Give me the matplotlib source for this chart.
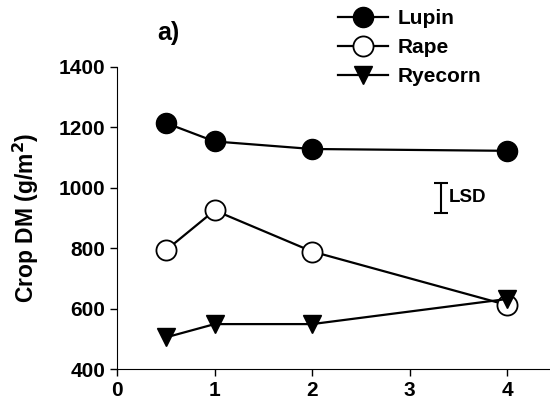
import numpy as np
import matplotlib
matplotlib.use('Agg')
import matplotlib.pyplot as plt

plt.rcParams['font.family'] = ['Liberation Sans', 'DejaVu Sans']

# sowing / time values (x) and crop dry matter for each crop
x_vals = [0.5, 1, 2, 4]
lupin = [1214, 1153, 1128, 1122]
rape = [793, 925, 789, 612]
ryecorn = [505, 549, 549, 632]

lsd_x = 3.32
lsd_center = 967
lsd_value = 98

x_ticks = [0, 1, 2, 3, 4]
y_ticks = [400, 600, 800, 1000, 1200, 1400]


def plotar():
    fig = plt.figure(figsize=(5.5, 4.07), dpi=100)
    ax = fig.add_axes([0.213, 0.093, 0.787, 0.743])

    ax.plot(x_vals, lupin, '-o', color='black', lw=1.6, ms=14.5,
            mfc='black', mec='black', label='Lupin', zorder=3)
    ax.plot(x_vals, rape, '-o', color='black', lw=1.6, ms=14.5,
            mfc='white', mec='black', mew=1.3, label='Rape', zorder=3)
    ax.plot(x_vals, ryecorn, '-v', color='black', lw=1.6, ms=13,
            mfc='black', mec='black', label='Ryecorn', zorder=4)

    # LSD bar
    ax.errorbar([lsd_x], [lsd_center], yerr=lsd_value / 2, fmt='none',
                ecolor='black', elinewidth=1.5, capsize=5, capthick=1.5)
    ax.text(lsd_x + 0.08, lsd_center, 'LSD', fontsize=13.5, fontweight='bold',
            va='center', ha='left')

    ax.set_xlim(0, 4.44)
    ax.set_ylim(400, 1400)
    ax.set_xticks(x_ticks)
    ax.set_yticks(y_ticks)
    ax.tick_params(direction='out', length=5, width=1, labelsize=15)
    for lab in ax.get_xticklabels() + ax.get_yticklabels():
        lab.set_fontweight('bold')

    ax.spines['top'].set_visible(False)
    ax.spines['right'].set_visible(False)
    ax.set_ylabel('Crop DM (g/m$^\\mathbf{2}$)', fontsize=16.5, fontweight='bold', labelpad=13)

    fig.text(0.285, 0.92, 'a)', fontsize=18, fontweight='bold', ha='left', va='center')

    leg = ax.legend(loc='upper left', bbox_to_anchor=(0.614, 0.978),
                    bbox_transform=fig.transFigure, frameon=False,
                    fontsize=15, handlelength=2.4, handletextpad=0.5,
                    labelspacing=0.48, borderaxespad=0, borderpad=0)
    for t in leg.get_texts():
        t.set_fontweight('bold')

    fig.savefig('out.png', dpi=100)


if __name__ == '__main__':
    plotar()
